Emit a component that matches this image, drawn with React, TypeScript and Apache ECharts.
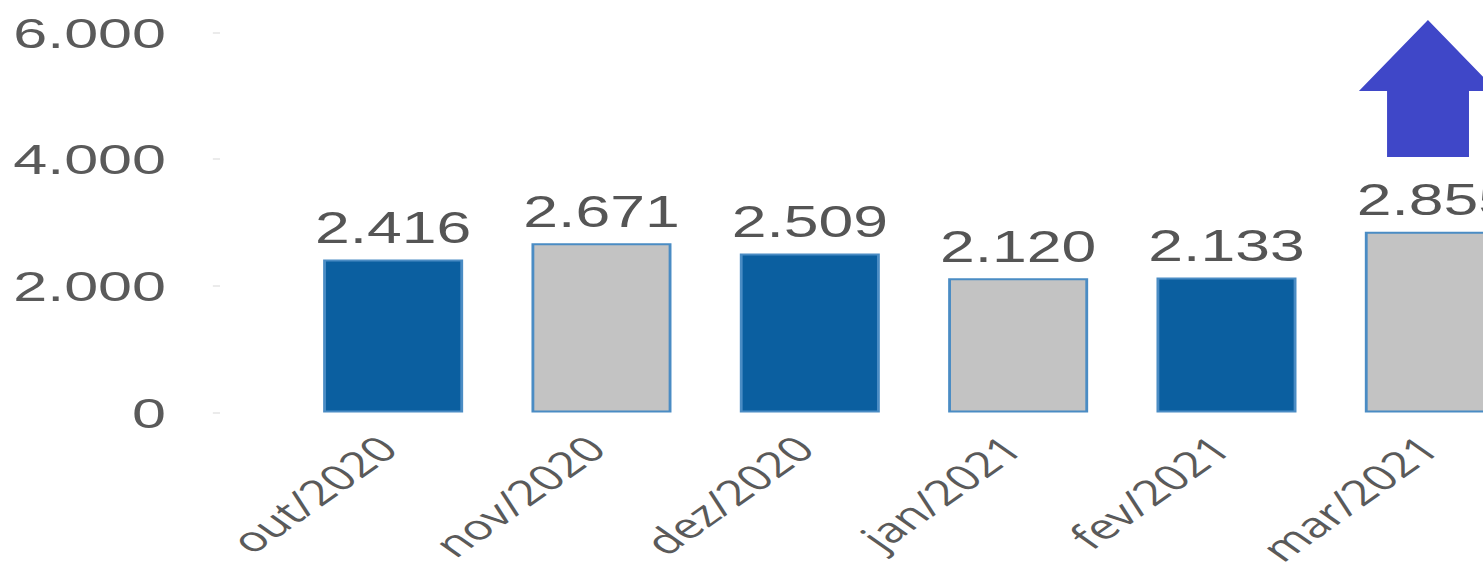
import React, { useEffect, useRef } from "react";
import * as echarts from "echarts";

const categories = ["out/2020", "nov/2020", "dez/2020", "jan/2021", "fev/2021", "mar/2021"];
const values = [2416, 2671, 2509, 2120, 2133, 2855];
const barColors = ["#0b5fa0", "#c3c3c3", "#0b5fa0", "#c3c3c3", "#0b5fa0", "#c3c3c3"];
const yTicks = [0, 2000, 4000, 6000];

const STRETCH = 1.42;

const fmt = (v: number) => String(v).replace(/\B(?=(\d{3})+(?!\d))/g, ".");

export default function App() {
  const ref = useRef<HTMLDivElement>(null);
  useEffect(() => {
    const el = ref.current!;
    const chart = echarts.init(el, undefined, { renderer: "svg" });
    chart.setOption({
      animation: false,
      backgroundColor: "#ffffff",
      grid: { left: 203.5, top: 32.5, width: 880.3, height: 380 },
      xAxis: {
        type: "category",
        data: categories,
        axisLine: { show: false },
        axisTick: { show: false },
        axisLabel: {
          interval: 0,
          rotate: 45,
          margin: 25,
          padding: [0, 6, 0, 0],
          color: "#5a5a5a",
          fontFamily: "Open Sans",
          fontSize: 35,
        },
      },
      yAxis: {
        type: "value",
        min: yTicks[0],
        max: yTicks[yTicks.length - 1],
        interval: 2000,
        offset: 48.6,
        splitLine: { show: false },
        axisLine: { show: false },
        axisTick: { show: true, length: 5, lineStyle: { color: "#ebebeb", width: 2 } },
        axisLabel: {
          margin: 38,
          color: "#5a5a5a",
          fontFamily: "Liberation Sans",
          fontSize: 43,
          formatter: (v: number) => fmt(v),
        },
      },
      series: [
        {
          type: "bar",
          barWidth: 98.6,
          data: values.map((v, i) => ({
            value: v,
            itemStyle: { color: barColors[i], borderColor: "#4a8cc4", borderWidth: 2 },
          })),
          label: {
            show: true,
            position: "top",
            distance: 10,
            color: "#555555",
            fontFamily: "Liberation Sans",
            fontSize: 44,
            formatter: (p: any) => fmt(p.value),
          },
        },
      ],
      graphic: [
        {
          type: "polygon",
          shape: {
            points: [
              [1005.6, 20],
              [1054.2, 91],
              [1034.5, 91],
              [1034.5, 157],
              [976.8, 157],
              [976.8, 91],
              [957, 91],
            ],
          },
          style: { fill: "#3f47c8" },
        },
      ],
    });
    return () => {
      chart.dispose();
    };
  }, []);
  return (
    <div
      style={{
        position: "absolute",
        left: 0,
        top: 0,
        width: 1483,
        height: 577,
        overflow: "hidden",
        background: "#fff",
      }}
    >
      <div
        ref={ref}
        style={{
          width: 1120,
          height: 577,
          transform: `scaleX(${STRETCH})`,
          transformOrigin: "0 0",
        }}
      />
    </div>
  );
}
